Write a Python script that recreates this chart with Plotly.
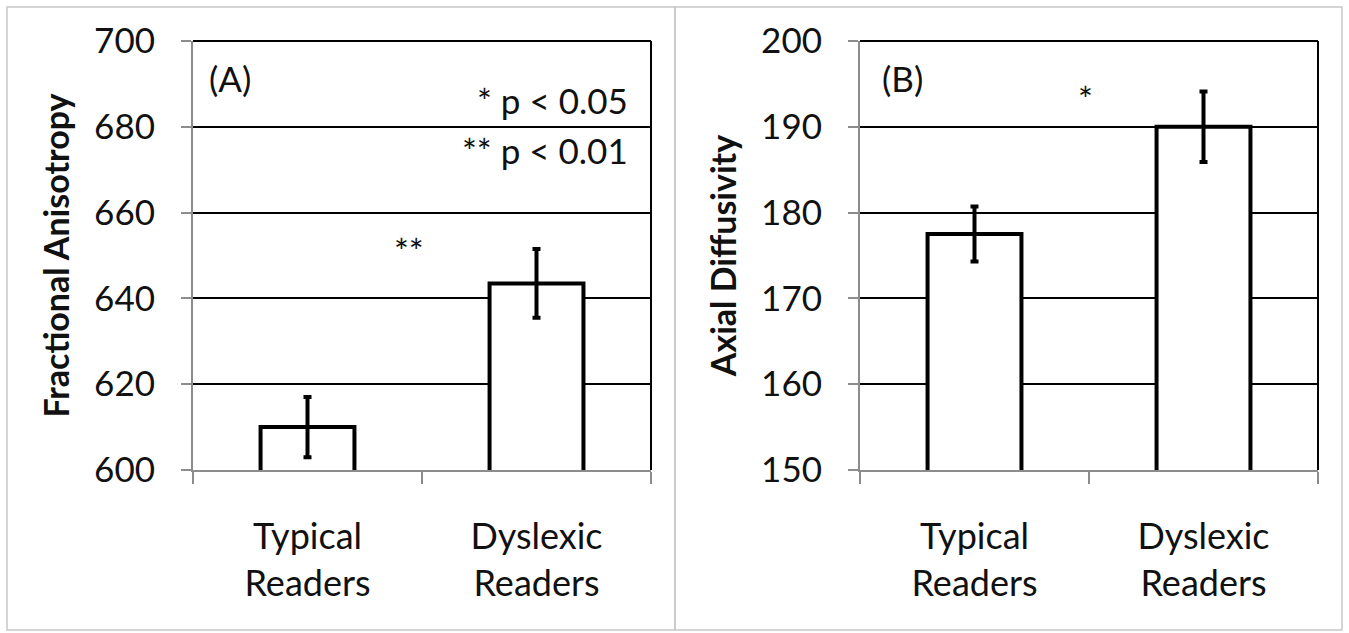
import plotly.graph_objects as go

# ---- data ----
categories = ["Typical<br>Readers", "Dyslexic<br>Readers"]
fa_values = [610, 643.5]
fa_errors = [7, 8]
ad_values = [177.5, 190]
ad_errors = [3.2, 4.1]
fa_ticks = [600, 620, 640, 660, 680, 700]
ad_ticks = [150, 160, 170, 180, 190, 200]

W, H = 1349, 633
FONT = "Lato"
TXT = "#111111"
GRID = "#000000"
AXIS = "#8c8c8c"


def fx(x):
    return x / W


def fy(y):
    return 1 - y / H


fig = go.Figure()

bar_style = dict(
    marker=dict(color="white", line=dict(color="black", width=4)),
    width=0.41,
    showlegend=False,
    hoverinfo="skip",
)

fig.add_trace(go.Bar(
    x=categories, y=fa_values, xaxis="x", yaxis="y",
    error_y=dict(type="data", array=fa_errors, color="black", thickness=4, width=4),
    **bar_style))
fig.add_trace(go.Bar(
    x=categories, y=ad_values, xaxis="x2", yaxis="y2",
    error_y=dict(type="data", array=ad_errors, color="black", thickness=4, width=4),
    **bar_style))

xa = dict(
    type="category", tickson="boundaries", ticks="outside", ticklen=12,
    tickcolor=AXIS, tickwidth=1.5, showline=True, linecolor=AXIS, linewidth=2,
    showgrid=False, tickfont=dict(family=FONT, size=36, color=TXT),
    ticklabelstandoff=34, automargin=False, fixedrange=True,
)
ya = dict(
    ticks="outside", ticklen=10, tickcolor=AXIS, tickwidth=1.5,
    showline=True, linecolor=AXIS, linewidth=2,
    showgrid=True, gridcolor=GRID, gridwidth=2, zeroline=False,
    tickfont=dict(family=FONT, size=35, color=TXT),
    ticklabelstandoff=19, automargin=False, fixedrange=True,
)

ydom = [fy(470), fy(41)]
fig.update_layout(
    template="none",
    width=W, height=H, autosize=False,
    margin=dict(l=0, r=0, t=0, b=0, autoexpand=False),
    paper_bgcolor="white", plot_bgcolor="white",
    bargap=0.59,
    xaxis=dict(domain=[fx(193), fx(651)], anchor="y", **xa),
    yaxis=dict(domain=ydom, anchor="x", range=[600, 700], tickvals=fa_ticks,
               title=dict(text="<b>Fractional Anisotropy</b>",
                          font=dict(family=FONT, size=34, color=TXT), standoff=14),
               **ya),
    xaxis2=dict(domain=[fx(860), fx(1318)], anchor="y2", **xa),
    yaxis2=dict(domain=ydom, anchor="x2", range=[150, 200], tickvals=ad_ticks,
                title=dict(text="<b>Axial Diffusivity</b>",
                           font=dict(family=FONT, size=34, color=TXT), standoff=14),
                **ya),
)

shapes = []
# panel borders
for x0, x1 in [(7, 675), (675, 1342)]:
    shapes.append(dict(type="rect", xref="paper", yref="paper",
                       x0=fx(x0), x1=fx(x1), y0=fy(630), y1=fy(7),
                       line=dict(color="#c8c8c8", width=1.5), layer="below"))
# plot-area top and right black border lines
for xl, xr in [(193, 651), (860, 1318)]:
    shapes.append(dict(type="line", xref="paper", yref="paper",
                       x0=fx(xl), x1=fx(xr), y0=fy(41), y1=fy(41),
                       line=dict(color="black", width=2)))
    shapes.append(dict(type="line", xref="paper", yref="paper",
                       x0=fx(xr), x1=fx(xr), y0=fy(41), y1=fy(470),
                       line=dict(color="black", width=2)))
fig.update_layout(shapes=shapes)

ann_font = dict(family=FONT, size=35, color=TXT)
annotations = [
    dict(text="(A)", x=fx(207), y=fy(78), xanchor="left", yanchor="middle"),
    dict(text="* p < 0.05", x=fx(630), y=fy(100), xanchor="right", yanchor="middle"),
    dict(text="** p < 0.01", x=fx(630), y=fy(150), xanchor="right", yanchor="middle"),
    dict(text="**", x=fx(409), y=fy(250), xanchor="center", yanchor="middle"),
    dict(text="(B)", x=fx(880), y=fy(78), xanchor="left", yanchor="middle"),
    dict(text="*", x=fx(1085), y=fy(98), xanchor="center", yanchor="middle"),
]
for a in annotations:
    a.update(xref="paper", yref="paper", showarrow=False, font=ann_font)
fig.update_layout(annotations=annotations)

fig.write_html("out.html", config={"displayModeBar": False},
               post_script="document.body.style.margin='0';")
